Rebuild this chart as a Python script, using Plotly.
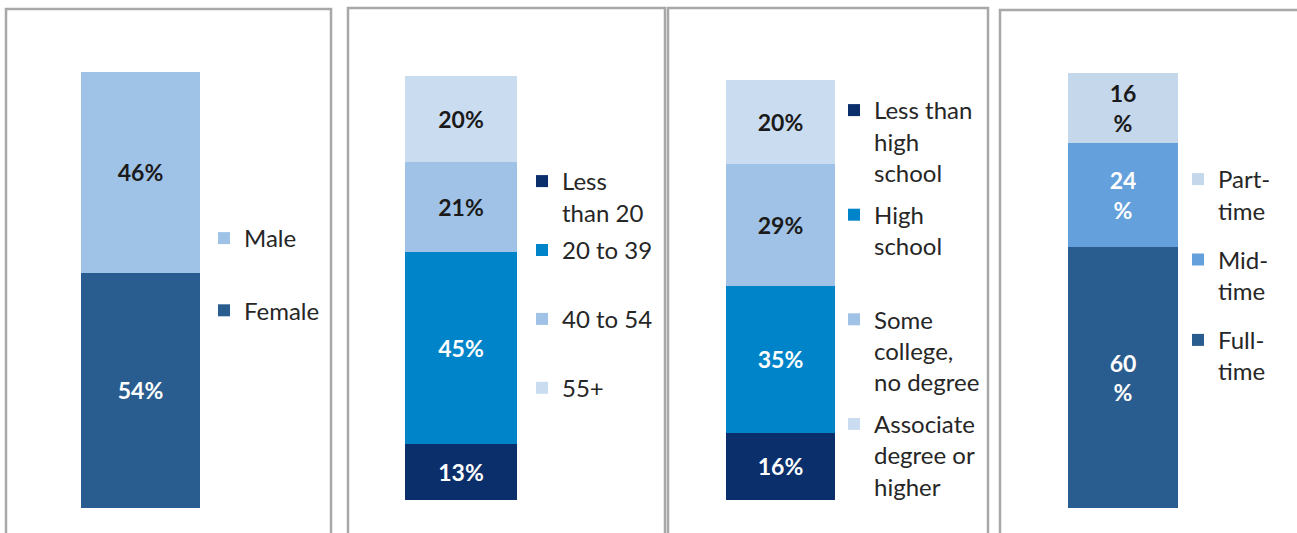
import plotly.graph_objects as go

# ---------------- data ----------------
gender_labels = ["Female", "Male"]
gender_values = [54, 46]

age_labels = ["Less<br>than 20", "20 to 39", "40 to 54", "55+"]
age_values = [13, 45, 21, 20]

edu_labels = ["Less than<br>high<br>school", "High<br>school",
              "Some<br>college,<br>no degree", "Associate<br>degree or<br>higher"]
edu_values = [16, 35, 29, 20]

time_labels = ["Full-<br>time", "Mid-<br>time", "Part-<br>time"]
time_values = [60, 24, 16]

# ---------------- styles ----------------
W, H = 1297, 533
FONT = "Lato"
DARK_TXT = "#1a1a1a"

panels = [
    dict(labels=gender_labels, values=gender_values,
         colors=["#2A5D8F", "#9FC3E7"], tcolors=["white", DARK_TXT],
         fmt="%{y}%", bar=(81, 200, 72, 508),
         leg=dict(x=204, top=216, reverse=True, gap=38, pad=1)),
    dict(labels=age_labels, values=age_values,
         colors=["#0B2F6B", "#0084C9", "#9FC2E6", "#CADCF0"],
         tcolors=["white", "white", DARK_TXT, DARK_TXT],
         fmt="%{y}%", bar=(405, 517, 76, 500),
         leg=dict(x=522, top=159, reverse=False, gap=3.5, pad=2)),
    dict(labels=edu_labels, values=edu_values,
         colors=["#0B2F6B", "#0084C9", "#9FC2E6", "#CADCF0"],
         tcolors=["white", "white", DARK_TXT, DARK_TXT],
         fmt="%{y}%", bar=(726, 835, 80, 500),
         leg=dict(x=834, top=88, reverse=False, gap=8, pad=3)),
    dict(labels=time_labels, values=time_values,
         colors=["#2A5D8F", "#64A0DC", "#C4D7EB"],
         tcolors=["white", "white", DARK_TXT],
         fmt="%{y}<br>%", bar=(1068, 1178, 73, 508),
         leg=dict(x=1178, top=157, reverse=True, gap=15, pad=2)),
]

borders = [(6, 331, 9), (348, 665, 8), (668, 988, 8), (1000, 1310, 10)]

fig = go.Figure()
layout = dict(
    width=W, height=H, margin=dict(l=0, r=0, t=0, b=0, autoexpand=False),
    paper_bgcolor="white", plot_bgcolor="white", barmode="stack",
    showlegend=True, shapes=[],
)

for i, p in enumerate(panels):
    n = "" if i == 0 else str(i + 1)
    xa, ya = "x" + n, "y" + n
    lg = "legend" + n
    total = sum(p["values"])
    k = len(p["values"])
    for j, (lab, val) in enumerate(zip(p["labels"], p["values"])):
        lines = lab.count("<br>") + 1
        name = lab + "<br> " * (p["leg"]["pad"] - lines)
        rank = (k - j) if p["leg"]["reverse"] else (j + 1)
        fig.add_trace(go.Bar(
            x=[0], y=[val], name=name, xaxis=xa, yaxis=ya, legend=lg,
            legendgroup=f"g{i}_{j}", legendrank=rank * 10,
            marker=dict(color=p["colors"][j], line=dict(width=0)),
            width=1, texttemplate=p["fmt"], textposition="inside",
            insidetextanchor="middle", textangle=0, constraintext="none",
            insidetextfont=dict(family=FONT, size=23, color=p["tcolors"][j],
                                weight="bold"),
            hoverinfo="skip",
        ))
    x0, x1, yt, yb = p["bar"]
    layout["xaxis" + n] = dict(domain=[x0 / W, x1 / W], range=[-0.5, 0.5],
                               visible=False, fixedrange=True)
    layout["yaxis" + n] = dict(domain=[1 - yb / H, 1 - yt / H], range=[0, total],
                               visible=False, fixedrange=True)
    L = p["leg"]
    layout[lg] = dict(x=L["x"] / W, y=1 - L["top"] / H, xanchor="left",
                      yanchor="top", traceorder="grouped",
                      tracegroupgap=L["gap"], valign="top",
                      font=dict(family=FONT, size=24, color="#262626"),
                      bgcolor="rgba(0,0,0,0)", borderwidth=0)

for (bx0, bx1, bt) in borders:
    layout["shapes"].append(dict(
        type="rect", xref="paper", yref="paper",
        x0=bx0 / W, x1=bx1 / W, y0=-0.2, y1=1 - bt / H,
        line=dict(color="#A8A8A8", width=2.5), fillcolor="rgba(0,0,0,0)",
        layer="above"))

fig.update_layout(**layout)
fig.write_html("out.html")
